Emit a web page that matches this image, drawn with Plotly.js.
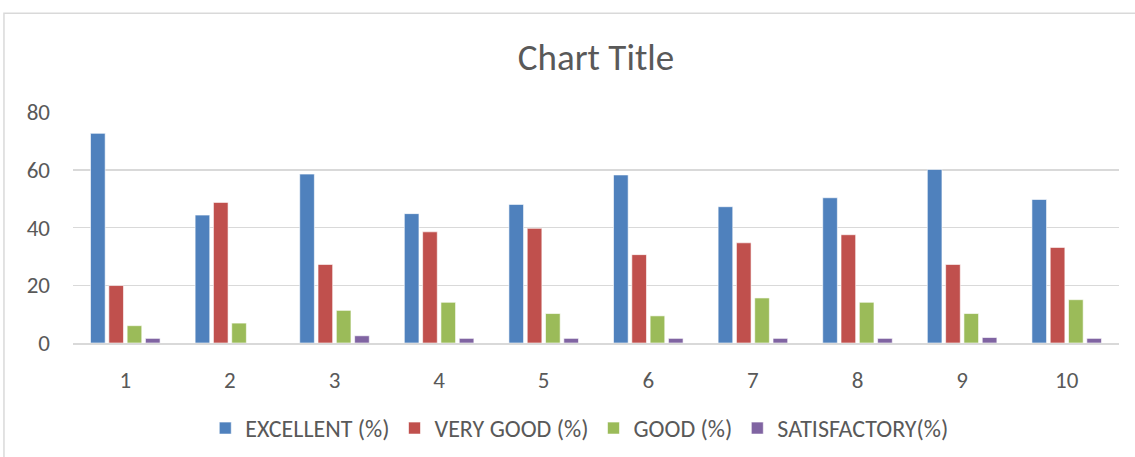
<!DOCTYPE html>
<html>
<head>
<meta charset="utf-8">
<script src="https://cdn.plot.ly/plotly-3.0.1.min.js"></script>
<style>
html,body{margin:0;padding:0;background:#fff;}
#chart{width:1135px;height:457px;}
</style>
</head>
<body>
<div id="chart"></div>
<script>
const categories = ["1","2","3","4","5","6","7","8","9","10"];
const excellent = [72.6, 44.3, 58.5, 44.8, 48.0, 58.2, 47.2, 50.3, 60.1, 49.7];
const veryGood = [19.9, 48.7, 27.2, 38.5, 39.7, 30.6, 34.7, 37.5, 27.2, 33.1];
const good = [6.0, 6.9, 11.3, 14.1, 10.2, 9.4, 15.6, 14.1, 10.2, 15.0];
const satisfactory = [1.6, 0, 2.5, 1.6, 1.6, 1.6, 1.6, 1.6, 1.9, 1.6];
const seriesNames = ["EXCELLENT (%)", "VERY GOOD (%)", "GOOD (%)", "SATISFACTORY(%)"];
const seriesValues = [excellent, veryGood, good, satisfactory];
const colors = ["#4F81BD", "#C0504D", "#9BBB59", "#8064A2"];

const fontFam = "Carlito, Lato, 'Open Sans', sans-serif";
const traces = seriesValues.map((vals, i) => ({
  type: "bar",
  name: seriesNames[i],
  x: categories,
  y: vals,
  marker: {color: colors[i], line: {color: "rgba(255,255,255,0.6)", width: 1}},
  hoverinfo: "x+y+name"
}));

const layout = {
  width: 1135, height: 457,
  margin: {l: 73, r: 16, t: 112, b: 114, autoexpand: false},
  paper_bgcolor: "#fff", plot_bgcolor: "#fff",
  font: {family: fontFam, color: "#595959", size: 23},
  title: {text: "Chart Title", x: 0.5, xref: "paper", y: 0.875, yref: "container", yanchor: "middle",
          font: {family: fontFam, size: 37, color: "#595959", weight: 300}},
  barmode: "group",
  bargap: 0.3,
  bargroupgap: 0.2,
  xaxis: {type: "category", showgrid: false, showline: true, linecolor: "#D9D9D9", linewidth: 1.5,
          automargin: false,
          ticks: "", ticklabelstandoff: 16, tickfont: {size: 23, color: "#595959"}, zeroline: false},
  yaxis: {range: [0, 80], dtick: 20, showgrid: true, gridcolor: "#D9D9D9", gridwidth: 1.5,
          automargin: false,
          zeroline: false, showline: false, ticks: "", ticklabelstandoff: 22,
          tickfont: {size: 23, color: "#595959"}},
  legend: {orientation: "h", x: 0.484, xanchor: "center", y: -0.37, yanchor: "middle",
           font: {size: 24, color: "#595959"}, itemwidth: 30, traceorder: "normal"},
  showlegend: true,
  shapes: [{type: "rect", xref: "paper", yref: "paper", x0: -0.066, x1: 1.2, y0: -2, y1: 1.428,
            line: {color: "#D9D9D9", width: 1.5}, fillcolor: "rgba(0,0,0,0)", layer: "below"}]
};

Plotly.newPlot("chart", traces, layout, {displayModeBar: false, staticPlot: true});
</script>
</body>
</html>
